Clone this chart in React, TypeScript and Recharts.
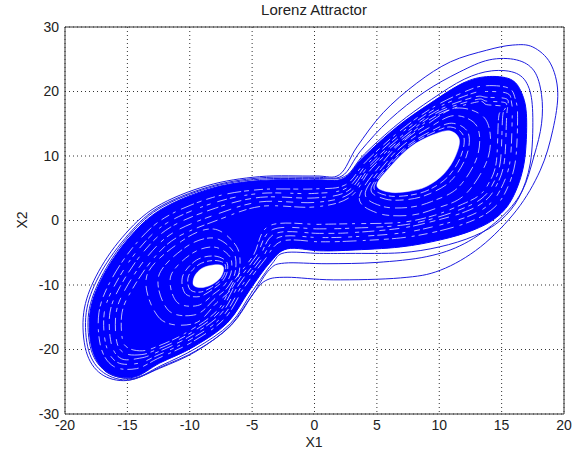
import React from 'react';
import { ScatterChart, Scatter, XAxis, YAxis, CartesianGrid, ReferenceLine } from 'recharts';

// ---- axis ticks ----
const xTicks = [-20, -15, -10, -5, 0, 5, 10, 15, 20];
const yTicks = [-30, -20, -10, 0, 10, 20, 30];

// ---- trajectory band (x1, x2) ----
const denseOutline = [
  [-14.5, -24.3], [-16.6, -23.6], [-17.8, -20.1], [-18.0, -14.3], [-17.0, -8.8], [-15.0, -3.0], [-12.4, 1.6],
  [-8.4, 4.9], [-4.4, 6.2], [0, 6.3], [2.3, 6.5], [3.9, 9.8], [6.6, 14.5], [9.3, 18.2], [11.9, 21.3],
  [13.8, 22.3], [15.7, 21.9], [16.6, 19.8], [17.0, 16.0], [16.8, 8.9], [15.9, 3.6], [14.6, 0.5], [12.7, -1.5],
  [10.1, -3.0], [6.9, -4.1], [2.85, -4.6], [0.4, -4.7], [-2.2, -4.4], [-3.6, -6.6], [-5.2, -10.8],
  [-7.0, -15.9], [-9.7, -19.6], [-12.4, -22.1],
];

const rightHole = [
  [5.0, 5.5], [6.2, 8.6], [7.7, 11.4], [9.4, 13.2], [10.8, 13.9], [11.6, 12.6], [11.3, 10.0], [10.4, 7.3],
  [9.0, 5.3], [7.5, 4.5], [6.0, 4.4],
];

const leftHole = [
  [-9.7, -10.0], [-9.6, -8.6], [-9.0, -7.4], [-8.1, -6.9], [-7.4, -7.0], [-7.3, -7.8], [-7.6, -9.0],
  [-8.3, -10.0], [-9.1, -10.4],
];

// gaps between orbit strands (white streaks)
const gapOuter = [
  [-14.28, -22.97], [-16.1, -22.62], [-17.12, -19.68], [-17.28, -14.3], [-16.36, -9.43], [-14.45, -3.91],
  [-12.03, 0.4], [-8.19, 3.56], [-4.36, 4.8], [0, 4.9], [2.48, 5.54], [4.15, 9.2], [6.85, 13.9], [9.55, 17.6],
  [12.35, 20.21], [13.8, 20.9], [15.56, 20.53], [16.1, 18.82], [16.28, 16.0], [16.08, 8.9], [15.26, 4.23],
  [14.14, 1.57], [12.43, -0.2], [9.94, -1.65], [6.9, -2.7], [2.85, -3.2], [0.4, -3.3], [-2.6, -3.2],
  [-4.04, -6.21], [-5.61, -10.31], [-7.25, -15.3], [-9.92, -18.96], [-12.58, -21.41],
];
const gapOuter2 = [
  [-14.15, -22.15], [-15.8, -22.0], [-16.7, -19.4], [-16.85, -14.3], [-15.95, -9.8], [-14.1, -4.45],
  [-11.8, -0.35], [-8.05, 2.75], [-4.34, 4.2], [0, 4.2], [2.58, 5.05], [4.28, 8.9], [6.98, 13.6], [9.68, 17.3],
  [12.55, 19.65], [13.8, 20.0], [15.47, 19.7], [15.8, 18.2], [15.85, 16.0], [15.65, 8.9], [14.85, 4.6],
  [13.85, 2.25], [12.27, 0.6], [9.85, -0.8], [6.9, -1.95], [2.85, -2.55], [0.4, -2.65], [-2.85, -2.6],
  [-4.26, -6.0], [-5.8, -10.05], [-7.4, -14.95], [-10.05, -18.55], [-12.7, -21.0],
];
const gapMiddle = [
  [-14.02, -21.35], [-15.48, -21.43], [-16.28, -19.17], [-16.4, -14.3], [-15.57, -10.2], [-13.78, -5.02],
  [-11.57, -1.07], [-7.94, 1.92], [-4.32, 3.6], [0, 3.5], [2.67, 4.58], [4.4, 8.59], [7.1, 13.29], [9.8, 16.99],
  [12.79, 19.12], [13.8, 19.1], [15.38, 18.86], [15.48, 17.63], [15.4, 16.0], [15.2, 8.9], [14.47, 5.0],
  [13.57, 2.89], [12.11, 1.38], [9.75, 0.01], [6.9, -1.2], [2.85, -1.9], [0.4, -2.0], [-3.1, -2.0],
  [-4.48, -5.82], [-6.02, -9.81], [-7.55, -14.57], [-10.19, -18.18], [-12.8, -20.58],
];
const gapMiddle2 = [
  [-13.9, -20.8], [-15.2, -20.6], [-15.85, -18.8], [-15.9, -14.3], [-15.15, -10.6], [-13.4, -5.6],
  [-11.3, -1.85], [-7.8, 1.0], [-4.3, 2.9], [0, 2.8], [2.76, 4.1], [4.5, 8.35], [7.2, 13.05], [9.9, 16.75],
  [12.95, 18.75], [13.8, 18.5], [15.3, 18.25], [15.25, 17.2], [15.08, 16.0], [14.88, 8.9], [14.2, 5.3],
  [13.35, 3.35], [11.99, 1.95], [9.68, 0.4], [6.9, -0.75], [2.85, -1.2], [0.4, -1.3], [-3.35, -1.4],
  [-4.7, -5.6], [-6.22, -9.55], [-7.68, -14.25], [-10.3, -17.85], [-12.75, -20.1],
];
const gapInner = [
  [-13.8, -20.2], [-14.9, -19.8], [-15.4, -18.4], [-15.43, -14.3], [-14.72, -11.03], [-13.05, -6.22],
  [-11.07, -2.67], [-7.66, 0.14], [-4.27, 2.2], [0, 2.1], [2.85, 3.63], [4.6, 8.11], [7.3, 12.81], [10.0, 16.51],
  [13.09, 18.4], [13.8, 17.96], [15.25, 17.65], [15.03, 16.76], [14.76, 16.0], [14.56, 8.9], [13.9, 5.55],
  [13.16, 3.84], [11.87, 2.54], [9.61, 0.8], [6.9, -0.3], [2.85, -0.5], [0.4, -0.6], [-3.6, -0.8],
  [-4.91, -5.43], [-6.43, -9.32], [-7.8, -13.97], [-10.41, -17.54], [-12.7, -19.6],
];

const leftRing0 = [[-10.0, -10.65], [-10.1, -8.6], [-9.25, -6.8], [-8.1, -6.2], [-7.25, -6.6], [-7.14, -7.8], [-7.5, -9.2], [-8.25, -10.35], [-9.17, -11.1]];
const leftRing1 = [[-10.37, -11.3], [-10.56, -8.6], [-9.48, -6.16], [-8.1, -5.5], [-7.11, -6.26], [-6.98, -7.8], [-7.38, -9.43], [-8.19, -10.7], [-9.24, -11.8]];
const leftRing2 = [[-11.05, -12.6], [-11.52, -8.6], [-9.87, -5.17], [-8.1, -4.11], [-6.82, -5.51], [-6.66, -7.8], [-7.16, -9.87], [-8.08, -11.4], [-9.38, -13.19]];
const leftRing3 = [[-11.72, -13.91], [-12.49, -8.6], [-10.3, -4.1], [-8.1, -2.71], [-6.53, -4.77], [-6.34, -7.8], [-6.94, -10.3], [-7.97, -12.09], [-9.52, -14.59]];
const leftRing4 = [[-12.39, -15.21], [-13.45, -8.6], [-10.64, -3.18], [-8.1, -1.32], [-6.25, -4.02], [-6.02, -7.8], [-6.72, -10.74], [-7.86, -12.79], [-9.66, -15.98]];

const rightRing0 = [[4.77, 5.2], [6.12, 8.78], [7.62, 11.58], [9.33, 13.48], [10.9, 14.5], [11.95, 13.1], [11.74, 10.0], [10.68, 6.75], [9.1, 4.7], [7.5, 3.88], [5.84, 3.86]];
const rightRing1 = [[4.53, 4.9], [6.05, 8.96], [7.55, 11.76], [9.27, 13.77], [10.99, 15.08], [12.31, 13.62], [12.18, 10.0], [10.96, 6.21], [9.19, 4.12], [7.5, 3.26], [5.68, 3.32]];
const rightRing2 = [[4.07, 4.31], [5.9, 9.33], [7.4, 12.13], [9.14, 14.34], [11.18, 16.26], [13.01, 14.65], [13.06, 10.0], [11.52, 5.13], [9.38, 2.94], [7.5, 2.02], [5.36, 2.24]];
const rightRing3 = [[3.6, 3.71], [5.75, 9.69], [7.25, 12.49], [9.02, 14.91], [11.38, 17.43], [13.72, 15.67], [13.95, 10.0], [12.08, 4.04], [9.58, 1.77], [7.5, 0.78], [5.04, 1.16]];

// thin outer orbits
const orbitOuter = [
  [-15.0, -24.8], [-17.1, -23.8], [-18.3, -20.3], [-18.5, -14.3], [-17.5, -8.6], [-15.4, -2.6], [-12.7, 2.1],
  [-8.6, 5.4], [-4.4, 6.8], [0, 6.9], [2.0, 7.1], [3.4, 11.4], [5.5, 16.7], [8.2, 21.3], [10.9, 24.6],
  [13.8, 26.4], [15.9, 27.2], [17.5, 26.9], [18.9, 24.4], [19.5, 19.9], [19.1, 14.0], [18.1, 7.8], [16.2, 1.6],
  [13.3, -4.1], [10.1, -7.7], [6.9, -8.9], [1.5, -9.2], [-2.2, -8.8], [-3.9, -9.3], [-5.0, -11.6],
  [-6.8, -16.4], [-9.5, -20.3], [-12.4, -22.9],
];
const orbitMiddle = [
  [-14.8, -24.7], [-16.9, -23.6], [-18.1, -20.2], [-18.3, -14.3], [-17.3, -8.7], [-15.2, -2.8], [-12.6, 1.9],
  [-8.5, 5.2], [-4.4, 6.6], [0, 6.7], [2.2, 6.9], [3.7, 10.8], [6.0, 15.6], [8.8, 19.9], [11.6, 23.0],
  [14.0, 24.9], [16.2, 24.9], [17.6, 23.2], [18.2, 19.5], [18.2, 15.0], [17.6, 10.0], [16.6, 4.4], [14.8, 0.2],
  [12.0, -3.6], [9.0, -5.6], [5.0, -6.5], [1.0, -6.7], [-2.4, -6.6], [-3.6, -7.6], [-4.9, -11.3],
  [-6.7, -16.3], [-9.4, -20.1], [-12.3, -22.7],
];
const orbitInner = [
  [-14.6, -24.5], [-16.7, -23.4], [-17.9, -20.1], [-18.1, -14.3], [-17.1, -8.8], [-15.1, -2.9], [-12.5, 1.8],
  [-8.4, 5.1], [-4.4, 6.4], [0, 6.5], [2.4, 6.8], [4.0, 10.3], [6.7, 15.0], [9.4, 18.8], [12.0, 21.9],
  [14.2, 23.2], [16.2, 22.8], [17.2, 20.5], [17.5, 16.0], [17.3, 8.9], [16.4, 3.6], [14.9, 0.0], [12.8, -2.4],
  [10.0, -4.1], [6.9, -5.0], [2.85, -5.1], [0.4, -5.1], [-2.4, -5.0], [-3.4, -6.7], [-4.95, -10.9],
  [-6.75, -16.0], [-9.5, -19.8], [-12.3, -22.5],
];

type P = { x: number; y: number };
const toPoints = (a: number[][]): P[] => a.map(([x, y]) => ({ x, y }));

// closed Catmull-Rom curve through the points (drawing style only)
const closedCurve = (context: any) => {
  let p: number[][] = [];
  return {
    areaStart() {},
    areaEnd() {},
    lineStart() {
      p = [];
    },
    point(x: number, y: number) {
      p.push([+x, +y]);
    },
    lineEnd() {
      const n = p.length;
      if (!n) return;
      context.moveTo(p[0][0], p[0][1]);
      for (let i = 0; i < n; i++) {
        const p0 = p[(i - 1 + n) % n];
        const p1 = p[i];
        const p2 = p[(i + 1) % n];
        const p3 = p[(i + 2) % n];
        context.bezierCurveTo(
          p1[0] + (p2[0] - p0[0]) / 6,
          p1[1] + (p2[1] - p0[1]) / 6,
          p2[0] - (p3[0] - p1[0]) / 6,
          p2[1] - (p3[1] - p1[1]) / 6,
          p2[0],
          p2[1],
        );
      }
      context.closePath();
    },
  };
};

const EMPTY = () => <g />;
const FONT = '"Liberation Sans", Arial, Helvetica, sans-serif';
const BLUE = '#0000ff';

const streaks = [
  { d: gapOuter, dash: '9 4 3 6 14 3 5 5' },
  { d: gapOuter2, dash: '4 7 10 3 6 9 3 4' },
  { d: gapMiddle, dash: '6 5 12 3 4 7 10 4' },
  { d: gapMiddle2, dash: '13 6 4 4 7 8' },
  { d: gapInner, dash: '11 4 5 6 3 5 8 3' },
  { d: leftRing0, dash: '5 3 8 3' },
  { d: leftRing1, dash: '7 3 10 4' },
  { d: leftRing2, dash: '9 4 5 5' },
  { d: leftRing3, dash: '6 5 11 3' },
  { d: leftRing4, dash: '10 6 6 4' },
  { d: rightRing0, dash: '6 3 9 4' },
  { d: rightRing1, dash: '8 4 12 5' },
  { d: rightRing2, dash: '12 5 6 4' },
  { d: rightRing3, dash: '7 6 13 4' },
];

const orbits = [orbitOuter, orbitMiddle, orbitInner];

export default function App() {
  return (
    <div style={{ position: 'absolute', left: 0, top: 0, width: 582, height: 458, fontFamily: FONT, color: '#222', background: '#fff' }}>
      <ScatterChart width={582} height={458} margin={{ top: 27, right: 18, bottom: 0, left: 0 }}>
        <CartesianGrid stroke="#333" strokeDasharray="1 3" />
        <XAxis
          type="number"
          dataKey="x"
          domain={[-20, 20]}
          ticks={xTicks}
          interval={0}
          allowDataOverflow
          height={44}
          tickLine={false}
          tickSize={0}
          tickMargin={6}
          axisLine={{ stroke: '#333' }}
          tick={{ fontSize: 14, fill: '#222', fontFamily: FONT }}
        />
        <YAxis
          type="number"
          dataKey="y"
          domain={[-30, 30]}
          ticks={yTicks}
          interval={0}
          allowDataOverflow
          width={65}
          tickLine={false}
          tickSize={0}
          tickMargin={6}
          axisLine={{ stroke: '#333' }}
          tick={{ fontSize: 14, fill: '#222', fontFamily: FONT }}
        />
        <Scatter
          data={toPoints(denseOutline)}
          shape={EMPTY}
          line={{ stroke: BLUE, strokeWidth: 1, fill: BLUE }}
          lineType="joint"
          lineJointType={closedCurve as any}
          isAnimationActive={false}
          legendType="none"
        />
        {[rightHole, leftHole].map((h, i) => (
          <Scatter
            key={'h' + i}
            data={toPoints(h)}
            shape={EMPTY}
            line={{ stroke: '#ffffff', strokeWidth: 0.5, fill: '#ffffff' }}
            lineType="joint"
            lineJointType={closedCurve as any}
            isAnimationActive={false}
            legendType="none"
          />
        ))}
        {streaks.map((s, i) => (
          <Scatter
            key={'s' + i}
            data={toPoints(s.d)}
            shape={EMPTY}
            line={{ stroke: '#ffffff', strokeWidth: 0.9, strokeDasharray: s.dash, strokeOpacity: 0.8, fill: 'none' }}
            lineType="joint"
            lineJointType={closedCurve as any}
            isAnimationActive={false}
            legendType="none"
          />
        ))}
        {orbits.map((o, i) => (
          <Scatter
            key={'o' + i}
            data={toPoints(o)}
            shape={EMPTY}
            line={{ stroke: '#1c1ce0', strokeWidth: 1, fill: 'none' }}
            lineType="joint"
            lineJointType={closedCurve as any}
            isAnimationActive={false}
            legendType="none"
          />
        ))}
        <ReferenceLine x={20} stroke="#333" />
        <ReferenceLine y={30} stroke="#333" />
      </ScatterChart>
      <div style={{ position: 'absolute', left: 314, top: 2, transform: 'translateX(-50%)', fontSize: 15, lineHeight: '16px', whiteSpace: 'nowrap' }}>
        Lorenz Attractor
      </div>
      <div style={{ position: 'absolute', left: 314, top: 434, transform: 'translateX(-50%)', fontSize: 14, lineHeight: '16px', whiteSpace: 'nowrap' }}>
        X1
      </div>
      <div style={{ position: 'absolute', left: 22, top: 220, transform: 'translate(-50%, -50%) rotate(-90deg)', fontSize: 14, lineHeight: '16px', whiteSpace: 'nowrap' }}>
        X2
      </div>
    </div>
  );
}
